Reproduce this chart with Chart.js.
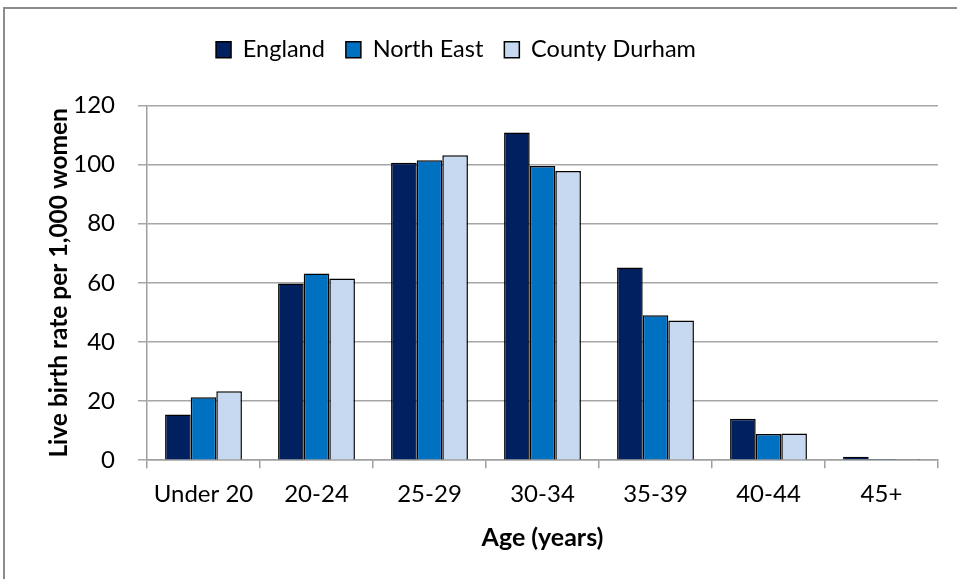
<!DOCTYPE html>
<html>
<head>
<meta charset="utf-8">
<script src="https://cdn.jsdelivr.net/npm/chart.js@4"></script>
<style>
  html, body { margin: 0; padding: 0; background: #ffffff; }
  #wrap { position: relative; width: 957px; height: 579px; overflow: hidden; }
  #frame { position: absolute; left: 3px; top: 7px; width: 960px; height: 580px;
           border-left: 2px solid #8c8c8c; border-top: 2px solid #8c8c8c; pointer-events: none; }
  canvas { display: block; }
</style>
</head>
<body>
<div id="wrap">
  <canvas id="c" width="957" height="579"></canvas>
  <div id="frame"></div>
</div>
<script>
// Live birth rates per 1,000 women, by age of mother
const ageGroups = ['Under 20', '20-24', '25-29', '30-34', '35-39', '40-44', '45+'];
const england = [15.5, 59.8, 100.6, 110.9, 65.2, 14.0, 1.2];
const northEast = [21.3, 63.2, 101.5, 99.5, 49.0, 8.9, 0.4];
const countyDurham = [23.3, 61.5, 103.2, 97.8, 47.3, 9.0, 0.4];
const yTicks = [0, 20, 40, 60, 80, 100, 120];

const FONT = 'Lato, "Open Sans", "Liberation Sans", sans-serif';

// Move the legend block up and to the left of centre
const legendShift = {
  id: 'legendShift',
  afterLayout(chart) {
    const lg = chart.legend;
    if (!lg) return;
    const dx = -35, dy = -34;
    lg.left += dx; lg.right += dx;
    lg.top += dy; lg.bottom += dy;
  }
};

new Chart(document.getElementById('c'), {
  type: 'bar',
  data: {
    labels: ageGroups,
    datasets: [
      { label: 'England', data: england, backgroundColor: '#002060' },
      { label: 'North East', data: northEast, backgroundColor: '#0070C0' },
      { label: 'County Durham', data: countyDurham, backgroundColor: '#C6D9F1' }
    ].map(d => Object.assign(d, { borderColor: '#000000', borderWidth: 1.5,
                                  categoryPercentage: 0.68, barPercentage: 1.0 }))
  },
  options: {
    responsive: false,
    animation: false,
    devicePixelRatio: 1,
    layout: { padding: { left: 44, right: 19, top: 51, bottom: 18 } },
    plugins: {
      legend: {
        position: 'top',
        labels: {
          font: { family: FONT, size: 23.5 },
          color: '#000000',
          boxWidth: 15, boxHeight: 16,
          padding: 21
        }
      },
      tooltip: { enabled: false }
    },
    scales: {
      x: {
        grid: { drawOnChartArea: false, drawTicks: true, tickLength: 8, color: '#a0a0a0', lineWidth: 1.5 },
        border: { display: true, color: '#a0a0a0', width: 1.5 },
        ticks: { font: { family: FONT, size: 24 }, color: '#000000', padding: 12 },
        title: { display: true, text: 'Age (years)', font: { family: FONT, size: 25, weight: 'bold' },
                 color: '#000000', padding: { top: 2, bottom: 8 } }
      },
      y: {
        min: 0, max: 120,
        afterBuildTicks(axis) { axis.ticks = yTicks.map(v => ({ value: v })); },
        afterFit(axis) { axis.width = 103; },
        grid: { color: '#a6a6a6', lineWidth: 1.5, tickLength: 9 },
        border: { display: true, color: '#a0a0a0', width: 1.5 },
        ticks: { font: { family: FONT, size: 24 }, color: '#000000', padding: 23 },
        title: { display: true, text: 'Live birth rate per 1,000 women',
                 font: { family: FONT, size: 24.5, weight: 'bold' }, color: '#000000',
                 padding: { top: 0, bottom: 0 } }
      }
    }
  },
  plugins: [legendShift]
});
</script>
</body>
</html>
